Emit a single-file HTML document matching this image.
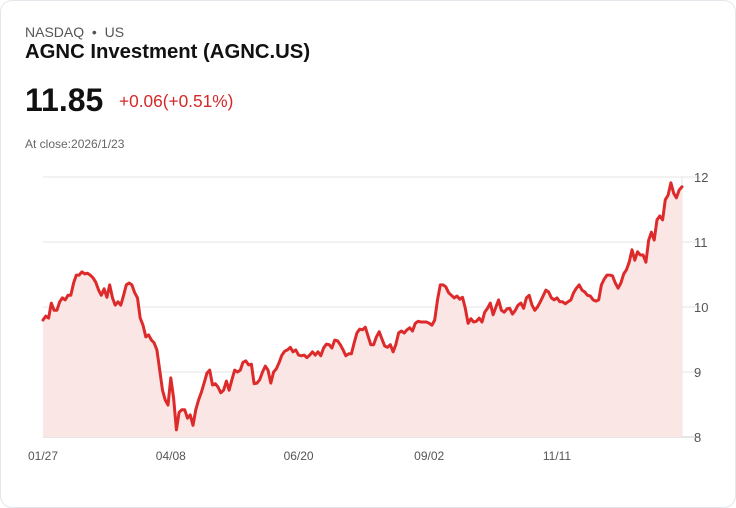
<!DOCTYPE html>
<html><head><meta charset="utf-8">
<style>
body{margin:0;background:#fff;font-family:"Liberation Sans",sans-serif;}
.card{position:absolute;left:0;top:0;width:734px;height:506px;border:1px solid #e3e6ea;border-radius:12px;background:#fff;}
.t{position:absolute;white-space:nowrap;}
</style></head><body>
<div class="card">
<div class="t" style="left:24px;top:23px;font-size:14px;color:#555">NASDAQ &nbsp;•&nbsp; US</div>
<div class="t" style="left:24px;top:40px;font-size:20.3px;font-weight:bold;color:#111">AGNC Investment (AGNC.US)</div>
<div class="t" style="left:24px;top:81px;font-size:32px;font-weight:bold;color:#111">11.85</div>
<div class="t" style="left:118px;top:90px;font-size:17.3px;color:#d62828">+0.06(+0.51%)</div>
<div class="t" style="left:24px;top:136px;font-size:12px;color:#666">At close:2026/1/23</div>
<svg id="chart" width="736" height="508" style="position:absolute;left:-1px;top:-1px"></svg>
</div>
<script>
const values=[9.80,9.86,9.83,10.06,9.95,9.95,10.08,10.14,10.11,10.18,10.18,10.37,10.49,10.49,10.54,10.51,10.52,10.49,10.45,10.38,10.26,10.18,10.28,10.15,10.34,10.14,10.03,10.08,10.03,10.18,10.34,10.37,10.34,10.22,10.14,9.83,9.72,9.54,9.57,9.49,9.45,9.34,9.03,8.72,8.57,8.49,8.91,8.60,8.11,8.38,8.42,8.42,8.29,8.34,8.18,8.42,8.57,8.69,8.83,8.98,9.03,8.80,8.82,8.77,8.68,8.72,8.86,8.72,8.88,9.03,9.00,9.03,9.15,9.17,9.11,9.12,8.82,8.83,8.88,9.00,9.09,9.03,8.83,9.00,9.05,9.15,9.26,9.32,9.34,9.38,9.31,9.34,9.26,9.25,9.26,9.22,9.26,9.31,9.26,9.31,9.25,9.37,9.43,9.42,9.37,9.49,9.48,9.42,9.34,9.25,9.28,9.28,9.45,9.60,9.66,9.65,9.69,9.55,9.42,9.42,9.54,9.62,9.51,9.40,9.38,9.42,9.31,9.42,9.60,9.63,9.60,9.65,9.68,9.63,9.75,9.78,9.77,9.77,9.77,9.75,9.72,9.80,10.11,10.34,10.34,10.31,10.22,10.18,10.14,10.17,10.12,10.15,9.98,9.75,9.82,9.77,9.78,9.83,9.77,9.92,9.98,10.06,9.88,10.00,10.11,9.95,9.92,9.97,9.98,9.89,9.95,10.03,10.06,9.98,10.14,10.18,10.03,9.95,10.00,10.08,10.17,10.26,10.23,10.14,10.11,10.14,10.08,10.08,10.05,10.08,10.11,10.22,10.29,10.34,10.26,10.23,10.18,10.17,10.11,10.09,10.11,10.34,10.43,10.49,10.49,10.48,10.37,10.29,10.37,10.51,10.57,10.69,10.88,10.72,10.85,10.80,10.80,10.69,11.03,11.15,11.03,11.34,11.40,11.34,11.65,11.72,11.91,11.75,11.68,11.80,11.85];
const yTicks=[8,9,10,11,12];
const xLabels=["01/27","04/08","06/20","09/02","11/11"];
const xLabelIdx=[0,46,92,139,185];
const svg=document.getElementById('chart');
const NS='http://www.w3.org/2000/svg';
const X0=43,X1=682,Y0=437,Y1=177,VMIN=8,VMAX=12;
const xs=i=>X0+(X1-X0)*i/(values.length-1);
const ys=v=>Y0-(v-VMIN)/(VMAX-VMIN)*(Y0-Y1);
function mk(tag,attrs){const e=document.createElementNS(NS,tag);for(const k in attrs)e.setAttribute(k,attrs[k]);svg.appendChild(e);return e;}
yTicks.forEach(v=>{
  const l=mk('line',{x1:X0,x2:X1+18,y1:ys(v),y2:ys(v),stroke:v===8?'#ccc':'#e4e4e4','stroke-width':1});
  
  
  const t=mk('text',{x:694,y:ys(v)+5,'font-size':13,fill:'#555','font-family':'Liberation Sans, sans-serif'});
  t.textContent=v;
  
  
});
const vl=mk('line',{x1:X1,x2:X1,y1:Y1,y2:Y0,stroke:'#e4e4e4'});


xLabels.forEach((s,k)=>{
  const t=mk('text',{x:xs(xLabelIdx[k]),y:460,'font-size':12,fill:'#555','text-anchor':'middle','font-family':'Liberation Sans, sans-serif'});
  t.textContent=s;
  
  
});
let d=values.map((v,i)=>(i?'L':'M')+xs(i).toFixed(1)+','+ys(v).toFixed(1)).join('');
const area=mk('path',{d:d+'L'+X1+','+Y0+'L'+X0+','+Y0+'Z',fill:'#fbe6e6'});


const line=mk('path',{d:d,fill:'none',stroke:'#dd2a2a','stroke-width':3,'stroke-linejoin':'round','stroke-linecap':'round'});


</script>
</body></html>
